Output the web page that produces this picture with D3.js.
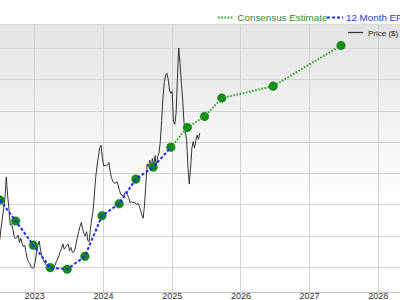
<!DOCTYPE html>
<html><head><meta charset="utf-8">
<script src="https://cdn.jsdelivr.net/npm/d3@7"></script>
<style>
html,body{margin:0;padding:0;background:#fff;}
svg{display:block;font-family:Arial,"Liberation Sans",sans-serif;}
</style></head>
<body>
<svg id="chart" width="400" height="300"></svg>
<script>
// ---- data ----
const yearTicks = ["2023","2024","2025","2026","2027","2028"];
const priceGrid = [10,20,30,40,50,60,70,80];
const priceStart = "2022-07-01"; // weekly series
const prices = [18.6,22.4,25.6,28.8,32.0,38.8,33.0,28.8,23.4,23.8,22.1,19.7,19.0,19.5,20.2,17.8,19.2,17.6,16.5,17.0,
14.6,12.5,11.6,11.0,9.9,9.6,9.8,11.7,14.6,17.0,18.3,15.4,13.5,12.5,11.5,10.9,10.1,9.9,9.9,10.1,
10.0,9.9,10.5,11.7,12.5,13.6,14.9,16.0,17.4,15.7,16.3,17.0,17.4,15.2,16.3,14.9,14.6,15.4,17.3,19.5,
21.3,22.9,24.2,22.2,20.6,19.9,21.3,18.4,18.1,22.4,25.6,28.2,33.6,38.9,42.6,45.3,48.3,48.9,44.8,42.3,
42.5,42.3,42.6,43.4,40.2,38.5,37.3,36.8,36.8,37.3,36.2,34.4,33.2,33.0,32.5,33.6,34.1,33.2,32.2,30.6,
30.8,30.6,30.8,30.4,29.9,30.4,29.5,28.2,26.6,25.6,29.8,36.2,42.9,42.1,44.2,41.2,44.7,42.3,45.6,41.9,
45.3,46.4,50.1,56.8,63.9,69.0,71.3,71.9,70.0,66.6,65.5,66.1,56.5,55.6,59.2,70.3,80.0,75.0,68.7,63.4,
56.2,53.3,50.4,42.1,36.5,41.6,48.0,50.1,48.0,50.4,52.2,50.8,52.8];
const trailingDates = ["2022-07-03","2022-09-24","2022-12-27","2023-03-27","2023-06-25","2023-09-27","2023-12-27","2024-03-27","2024-06-24","2024-09-24","2024-12-27"];
const trailingEPS   = [31.4,24.7,17.0,9.8,9.3,13.4,26.4,30.2,38.1,41.9,48.3];
const consensusDates = ["2024-12-27","2025-03-25","2025-06-24","2025-09-24","2026-06-24","2027-06-20"];
const consensusEPS   = [48.3,54.6,58.1,64.0,67.8,80.8];
const legendLabels = {consensus:"Consensus Estimate", eps:"12 Month EPS", price:"Price ($)"};

// ---- layout ----
const W = 400, H = 300;
const plot = {left:0, right:400, top:24, bottom:292};
const parse = d3.utcParse("%Y-%m-%d");
const svg = d3.select("#chart");

const x = d3.scaleUtc()
  .domain([new Date(Date.UTC(2023,0,1)), new Date(Date.UTC(2028,0,1))])
  .range([34.3, 377.7]);
const y = d3.scaleLinear().domain([10,80]).range([267,48]);

const defs = svg.append("defs");
const grad = defs.append("linearGradient").attr("id","bg").attr("x1",0).attr("y1",0).attr("x2",0).attr("y2",1);
grad.append("stop").attr("offset","0%").attr("stop-color","#e3e3e3");
grad.append("stop").attr("offset","65%").attr("stop-color","#ffffff");
grad.append("stop").attr("offset","100%").attr("stop-color","#ffffff");
defs.append("clipPath").attr("id","clip").append("rect")
  .attr("x",plot.left).attr("y",plot.top).attr("width",plot.right-plot.left).attr("height",plot.bottom-plot.top);

svg.append("rect").attr("x",plot.left).attr("y",plot.top)
  .attr("width",plot.right-plot.left).attr("height",plot.bottom-plot.top).attr("fill","url(#bg)");

const yearDates = yearTicks.map(t => new Date(Date.UTC(+t,0,1)));
// grid
const g = svg.append("g");
g.selectAll(".hg").data(priceGrid).join("line")
  .attr("x1",plot.left).attr("x2",plot.right)
  .attr("y1",d=>Math.round(y(d))+0.5).attr("y2",d=>Math.round(y(d))+0.5)
  .attr("stroke","#d2d2d2").attr("stroke-width",1);
g.selectAll(".vg").data(yearDates).join("line")
  .attr("x1",d=>Math.round(x(d))+0.5).attr("x2",d=>Math.round(x(d))+0.5)
  .attr("y1",plot.top).attr("y2",plot.bottom)
  .attr("stroke","#d2d2d2").attr("stroke-width",1);
svg.append("line").attr("x1",plot.left).attr("x2",plot.right).attr("y1",plot.top+0.5).attr("y2",plot.top+0.5)
  .attr("stroke","#dcdcdc");
svg.append("line").attr("x1",plot.left).attr("x2",plot.right).attr("y1",plot.bottom+0.5).attr("y2",plot.bottom+0.5)
  .attr("stroke","#c4c4c4");

// x axis labels
const xAxis = d3.axisBottom(x).tickValues(yearDates).tickFormat((d,i)=>yearTicks[i]).tickSize(0).tickPadding(0);
const ax = svg.append("g").attr("transform",`translate(0,${plot.bottom})`).call(xAxis);
ax.select(".domain").remove();
ax.selectAll("text").attr("dy",null).attr("y",7).attr("font-size","9px").attr("fill","#333")
  .attr("font-family","Arial,'Liberation Sans',sans-serif");

const clipG = svg.append("g").attr("clip-path","url(#clip)");

// price line
const start = parse(priceStart);
const priceData = prices.map((p,i)=>({d:d3.utcWeek.offset(start,i), v:p}));
clipG.append("path").datum(priceData)
  .attr("fill","none").attr("stroke","#333").attr("stroke-width",1)
  .attr("d", d3.line().x(d=>x(d.d)).y(d=>y(d.v)));

const trail = trailingDates.map((d,i)=>({d:parse(d), v:trailingEPS[i]}));
const cons = consensusDates.map((d,i)=>({d:parse(d), v:consensusEPS[i]}));
const ln = d3.line().x(d=>x(d.d)).y(d=>y(d.v));

clipG.selectAll(".pt").data(trail.concat(cons.slice(1))).join("circle")
  .attr("cx",d=>x(d.d)).attr("cy",d=>y(d.v)).attr("r",4.3)
  .attr("fill","#138a13").attr("stroke","#0e7a0e").attr("stroke-width",0.5);

clipG.append("path").datum(trail).attr("fill","none")
  .attr("stroke","#1c2cf0").attr("stroke-width",2).attr("stroke-dasharray","3,2").attr("d",ln);
clipG.append("path").datum(cons).attr("fill","none")
  .attr("stroke","#2ea02e").attr("stroke-width",2).attr("stroke-dasharray","1.6,1.6").attr("d",ln);

// legend
const lg = svg.append("g");
lg.append("line").attr("x1",218).attr("x2",233).attr("y1",17.5).attr("y2",17.5)
  .attr("stroke","#2ea02e").attr("stroke-width",2).attr("stroke-dasharray","1.6,1.6");
lg.append("text").attr("x",237.5).attr("y",21).attr("font-size","9.8px").attr("fill","#2a8f2a")
  .text(legendLabels.consensus);
lg.append("line").attr("x1",327).attr("x2",343).attr("y1",17.5).attr("y2",17.5)
  .attr("stroke","#1c2cf0").attr("stroke-width",2).attr("stroke-dasharray","3,2");
lg.append("text").attr("x",346).attr("y",21).attr("font-size","9.8px").attr("fill","#2b35d8")
  .text(legendLabels.eps);
lg.append("line").attr("x1",348).attr("x2",363).attr("y1",32.5).attr("y2",32.5)
  .attr("stroke","#333").attr("stroke-width",1.2);
lg.append("text").attr("x",368).attr("y",35.5).attr("font-size","8px").attr("fill","#222")
  .text(legendLabels.price);
</script>
</body></html>
